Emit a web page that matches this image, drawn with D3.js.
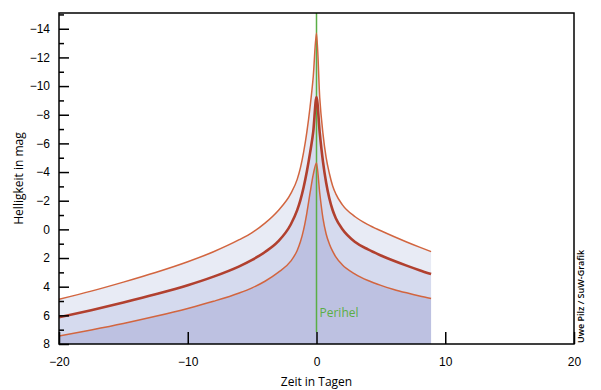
<!DOCTYPE html>
<html>
<head>
<meta charset="utf-8">
<script src="https://cdn.jsdelivr.net/npm/d3@7"></script>
<style>
  body { margin: 0; background: #fff; }
  svg { font-family: "Open Sans", sans-serif; }
</style>
</head>
<body>
<div id="chart"></div>
<script>
// Zeit in Tagen relativ zum Perihel
const days = [-20, -17.5, -15, -12.5, -10, -8, -6, -5, -4, -3, -2, -1.5, -1.25, -1, -0.75, -0.5, -0.25, 0,
  0.25, 0.5, 0.75, 1, 1.25, 1.5, 2, 3, 4, 5, 6, 7, 8, 8.9];
// Helligkeit (mag): obere Grenze, Mittel, untere Grenze
const magBright = [4.88, 4.31, 3.68, 3.01, 2.26, 1.56, 0.72, 0.22, -0.44, -1.29, -2.49, -3.49, -4.29, -5.39, -6.79, -8.54, -10.69, -13.7,
  -9.2, -6.7, -5.0, -3.9, -3.05, -2.48, -1.73, -0.88, -0.33, 0.1, 0.5, 0.88, 1.24, 1.55];
const magMid = [6.14, 5.64, 5.1, 4.53, 3.9, 3.3, 2.58, 2.13, 1.58, 0.86, -0.34, -1.34, -2.04, -2.94, -4.04, -5.34, -6.84, -9.24,
  -6.75, -4.75, -3.25, -2.15, -1.35, -0.78, -0.03, 0.88, 1.4, 1.82, 2.19, 2.53, 2.85, 3.12];
const magFaint = [7.44, 7.02, 6.57, 6.07, 5.52, 5.02, 4.44, 4.08, 3.62, 3.02, 2.22, 1.47, 0.87, 0.02, -1.14, -2.54, -3.84, -4.64,
  -2.54, -0.79, 0.32, 1.02, 1.52, 1.92, 2.47, 3.12, 3.57, 3.91, 4.19, 4.43, 4.65, 4.83];

const xTicks = [-20, -10, 0, 10, 20];
const yTicks = [-14, -12, -10, -8, -6, -4, -2, 0, 2, 4, 6, 8];
const yMinor = [-15, -13, -11, -9, -7, -5, -3, -1, 1, 3, 5, 7];

const width = 601, height = 390;
const margin = {top: 13, right: 27, bottom: 46, left: 59};
const w = width - margin.left - margin.right,
      h = height - margin.top - margin.bottom;

const svg = d3.select("#chart").append("svg")
    .attr("width", width)
    .attr("height", height);

const g = svg.append("g")
    .attr("transform", "translate(" + margin.left + "," + margin.top + ")");

const x = d3.scaleLinear().domain([-20, 20]).range([0, w]);
const y = d3.scaleLinear().domain([8, -15.1]).range([h, 0]);

const rows = days.map((d, i) => ({t: d, b: magBright[i], m: magMid[i], f: magFaint[i]}));

g.append("clipPath").attr("id", "clip")
  .append("rect").attr("width", w).attr("height", h);

const plot = g.append("g").attr("clip-path", "url(#clip)");
const curve = d3.curveMonotoneX;

// Flächen
plot.append("path").datum(rows)
  .attr("fill", "#e8ebf5")
  .attr("d", d3.area().curve(curve).x(d => x(d.t)).y0(d => y(d.m)).y1(d => y(d.b)));
plot.append("path").datum(rows)
  .attr("fill", "#d5daee")
  .attr("d", d3.area().curve(curve).x(d => x(d.t)).y0(d => y(d.f)).y1(d => y(d.m)));
plot.append("path").datum(rows)
  .attr("fill", "#bdc1e1")
  .attr("d", d3.area().curve(curve).x(d => x(d.t)).y0(h).y1(d => y(d.f)));

// Perihel-Linie
plot.append("line")
  .attr("x1", x(0)).attr("x2", x(0))
  .attr("y1", 0).attr("y2", h - 12)
  .attr("stroke", "#5aae45").attr("stroke-width", 1.5);

// Kurven
const line = key => d3.line().curve(curve).x(d => x(d.t)).y(d => y(d[key]));
plot.append("path").datum(rows).attr("fill", "none")
  .attr("stroke", "#d2653f").attr("stroke-width", 1.5).attr("d", line("b"));
plot.append("path").datum(rows).attr("fill", "none")
  .attr("stroke", "#d2653f").attr("stroke-width", 1.5).attr("d", line("f"));
plot.append("path").datum(rows).attr("fill", "none")
  .attr("stroke", "#b1402f").attr("stroke-width", 2.6).attr("d", line("m"));

g.append("text")
  .attr("x", x(0) + 3).attr("y", h - 27)
  .attr("fill", "#5aae45")
  .style("font-size", "12px")
  .text("Perihel");

// Achsen
g.append("g")
  .call(d3.axisLeft(y).tickValues(yTicks).tickSize(-10).tickPadding(9).tickFormat(d3.format("d")));
g.append("g")
  .call(d3.axisLeft(y).tickValues(yMinor).tickSize(-5).tickFormat(""));
g.append("g")
  .attr("transform", "translate(0," + h + ")")
  .call(d3.axisBottom(x).tickValues(xTicks).tickSize(-12).tickPadding(13).tickFormat(d3.format("d")));

g.selectAll(".domain").remove();
g.selectAll(".tick line").attr("stroke", "#000").attr("stroke-width", 1.5);
g.selectAll(".tick text").style("font-size", "12px").attr("fill", "#000");

g.append("rect")
  .attr("width", w).attr("height", h)
  .attr("fill", "none").attr("stroke", "#000").attr("stroke-width", 1.5);

// Beschriftungen
svg.append("text")
  .attr("x", margin.left + w / 2).attr("y", 386)
  .attr("text-anchor", "middle")
  .style("font-size", "12px")
  .text("Zeit in Tagen");

svg.append("text")
  .attr("transform", "translate(23," + (margin.top + h / 2) + ") rotate(-90)")
  .attr("text-anchor", "middle")
  .style("font-size", "12px")
  .text("Helligkeit in mag");

svg.append("text")
  .attr("transform", "translate(584,343) rotate(-90)")
  .attr("text-anchor", "start")
  .style("font-size", "9px")
  .style("font-weight", "600")
  .text("Uwe Pilz / SuW-Grafik");
</script>
</body>
</html>
